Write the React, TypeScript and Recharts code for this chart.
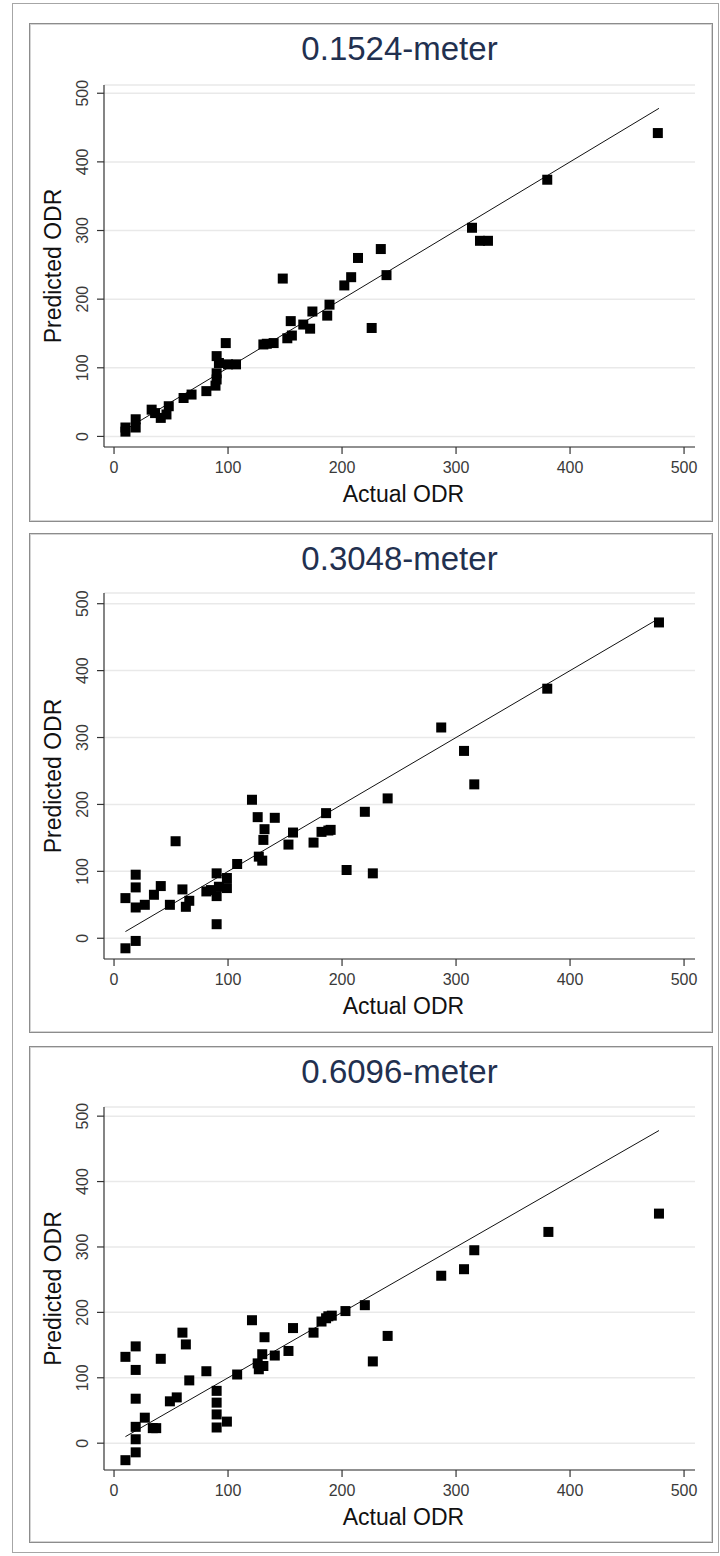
import { ScatterChart, Scatter, XAxis, YAxis, CartesianGrid, ReferenceLine, Label } from "recharts";

const FONT = '"Liberation Sans", Arial, Helvetica, sans-serif';

const X_TICKS = [0, 100, 200, 300, 400, 500];
const Y_TICKS = [0, 100, 200, 300, 400, 500];
// 45-degree reference line, actual = predicted
const FIT_LINE = [
  { x: 10, y: 10 },
  { x: 478, y: 478 },
];

const TITLES = ["0.1524-meter", "0.3048-meter", "0.6096-meter"];

// 0.1524 m
const ACTUAL_1 = [10, 10, 19, 19, 33, 36, 41, 46, 48, 61, 68, 81, 89, 90, 90, 90, 92, 98, 100, 107, 131, 134, 140, 148, 152, 155, 156, 166, 172, 174, 187, 189, 202, 208, 214, 226, 234, 239, 314, 321, 328, 380, 477];
const PRED_1 = [7, 13, 13, 25, 39, 34, 27, 32, 44, 56, 61, 66, 74, 83, 92, 117, 107, 136, 105, 105, 134, 135, 136, 230, 143, 168, 147, 163, 157, 182, 176, 192, 220, 232, 260, 158, 273, 235, 304, 285, 285, 374, 442];

// 0.3048 m
const ACTUAL_2 = [10, 10, 19, 19, 19, 19, 27, 35, 41, 49, 54, 60, 63, 66, 81, 85, 90, 90, 90, 92, 99, 99, 108, 121, 126, 127, 130, 131, 132, 141, 153, 157, 175, 182, 186, 188, 190, 204, 220, 227, 240, 287, 307, 316, 380, 478];
const PRED_2 = [-15, 60, -4, 95, 76, 46, 50, 65, 78, 50, 145, 73, 47, 56, 70, 72, 21, 97, 63, 77, 90, 75, 111, 207, 181, 122, 116, 147, 163, 180, 140, 158, 143, 159, 187, 161, 162, 102, 189, 97, 209, 315, 280, 230, 373, 472];

// 0.6096 m
const ACTUAL_3 = [10, 10, 19, 19, 19, 19, 19, 19, 27, 34, 37, 41, 49, 55, 60, 63, 66, 81, 90, 90, 90, 90, 99, 108, 121, 126, 127, 130, 131, 132, 141, 153, 157, 175, 182, 186, 188, 191, 203, 220, 227, 240, 287, 307, 316, 381, 478];
const PRED_3 = [-26, 132, 148, 112, 68, 25, 6, -14, 39, 23, 23, 129, 64, 70, 169, 151, 96, 110, 80, 62, 44, 24, 33, 105, 188, 122, 113, 136, 118, 162, 134, 141, 176, 169, 186, 191, 194, 195, 202, 211, 125, 164, 256, 266, 295, 323, 351];

const zip = (xs: number[], ys: number[]) => xs.map((x, i) => ({ x, y: ys[i] }));

const SERIES = [zip(ACTUAL_1, PRED_1), zip(ACTUAL_2, PRED_2), zip(ACTUAL_3, PRED_3)];

// page geometry of each panel (box top, box height, plot top, x-axis y, y domain)
const PANELS = [
  { top: 23, h: 499, plotTop: 85, axisY: 447, yDom: [-15.4, 512] },
  { top: 533, h: 500, plotTop: 593, axisY: 959, yDom: [-31, 516] },
  { top: 1046, h: 497, plotTop: 1107, axisY: 1470, yDom: [-41, 514] },
];

const LEFT = 29;
const W = 684;
const Y_AXIS_W = 75;
const X_AXIS_H = 60;

const Square = (p: any) => <rect x={p.cx - 5} y={p.cy - 5} width={10} height={10} fill="#000" />;

const XTick = ({ x, y, payload }: any) => (
  <text x={x} y={y + 17} textAnchor="middle" fontSize={16} fill="#3a3a3a" fontFamily={FONT}>
    {payload.value}
  </text>
);

const YTick = ({ x, y, payload }: any) => (
  <text
    x={x - 7}
    y={y}
    transform={`rotate(-90, ${x - 7}, ${y})`}
    textAnchor="middle"
    fontSize={16}
    fill="#3a3a3a"
    fontFamily={FONT}
  >
    {payload.value}
  </text>
);

const YTitle = ({ viewBox }: any) => {
  const cx = viewBox.x + 32;
  const cy = viewBox.y + viewBox.height / 2;
  return (
    <text x={cx} y={cy} transform={`rotate(-90, ${cx}, ${cy})`} textAnchor="middle" fontSize={23} fill="#111" fontFamily={FONT}>
      Predicted ODR
    </text>
  );
};

const XTitle = ({ viewBox }: any) => (
  <text x={viewBox.x + viewBox.width / 2 + 4} y={viewBox.y + 55} textAnchor="middle" fontSize={23} fill="#111" fontFamily={FONT}>
    Actual ODR
  </text>
);

function Panel({ idx }: { idx: number }) {
  const p = PANELS[idx];
  const mTop = p.plotTop - p.top;
  const mBottom = p.top + p.h - p.axisY - X_AXIS_H;
  return (
    <div style={{ position: "absolute", left: LEFT, top: p.top, width: W, height: p.h, background: "#fff" }}>
      <ScatterChart width={W} height={p.h} margin={{ top: mTop, right: 18, bottom: mBottom, left: 0 }}>
        <CartesianGrid vertical={false} stroke="#e9e9e9" strokeWidth={1.5} />
        <XAxis
          type="number"
          dataKey="x"
          domain={[-8.8, 509.6]}
          ticks={X_TICKS}
          allowDataOverflow
          height={X_AXIS_H}
          tickSize={7}
          tick={<XTick />}
          axisLine={{ stroke: "#333", strokeWidth: 1.2 }}
          tickLine={{ stroke: "#333", strokeWidth: 1.2 }}
        >
          <Label content={<XTitle />} />
        </XAxis>
        <YAxis
          type="number"
          dataKey="y"
          domain={p.yDom}
          ticks={Y_TICKS}
          allowDataOverflow
          width={Y_AXIS_W}
          tickSize={7}
          tick={<YTick />}
          axisLine={{ stroke: "#333", strokeWidth: 1.2 }}
          tickLine={{ stroke: "#333", strokeWidth: 1.2 }}
        >
          <Label content={<YTitle />} />
        </YAxis>
        <ReferenceLine segment={FIT_LINE} stroke="#111" strokeWidth={1} />
        <Scatter data={SERIES[idx]} shape={Square} isAnimationActive={false} />
      </ScatterChart>
      <div
        style={{
          position: "absolute",
          left: Y_AXIS_W,
          width: W - Y_AXIS_W - 18,
          top: 9,
          textAlign: "center",
          fontFamily: FONT,
          fontSize: 33,
          lineHeight: "33px",
          color: "#22304f",
        }}
      >
        {TITLES[idx]}
      </div>
      <div
        style={{
          position: "absolute",
          inset: 0,
          border: "1px solid #8c8c8c",
          boxShadow: "inset 0 0 0 1px #d4d4d4",
          pointerEvents: "none",
        }}
      />
    </div>
  );
}

export default function App() {
  return (
    <div style={{ position: "absolute", left: 0, top: 0, width: 720, height: 1556, background: "#fff" }}>
      <div
        style={{
          position: "absolute",
          left: 12,
          top: 3,
          width: 705,
          height: 1548,
          border: "1px solid #a6a6a6",
        }}
      />
      {PANELS.map((_, i) => (
        <Panel key={i} idx={i} />
      ))}
    </div>
  );
}
